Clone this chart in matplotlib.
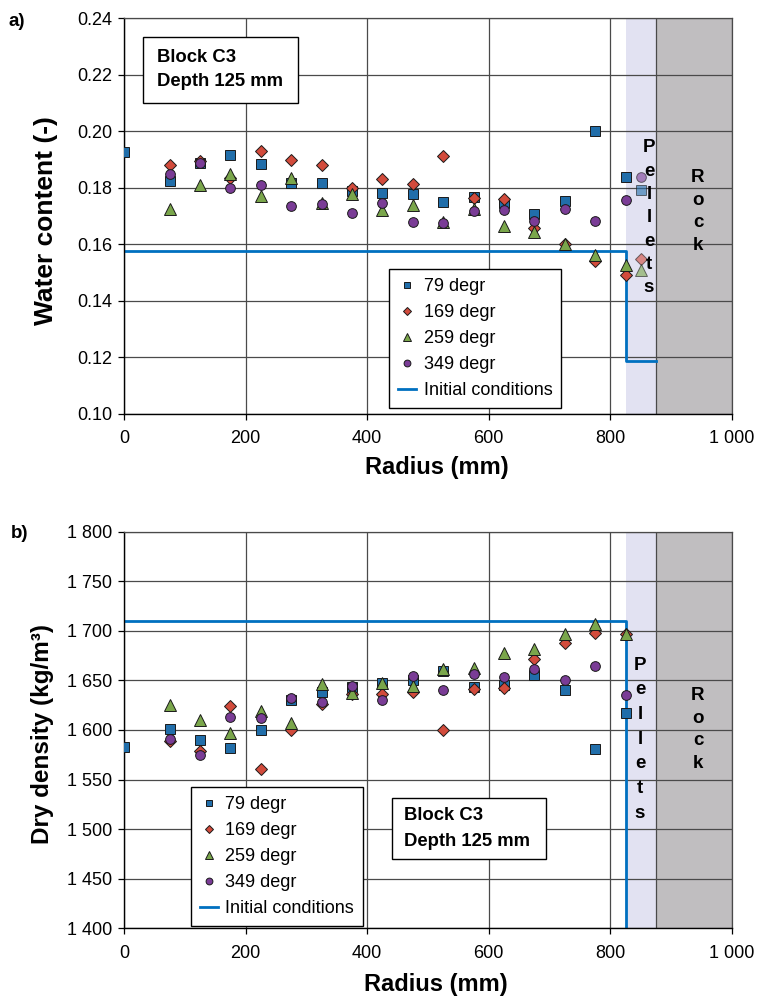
import numpy as np
import matplotlib
matplotlib.use("Agg")
import matplotlib.pyplot as plt
from matplotlib.ticker import FuncFormatter

plt.rcParams['font.family'] = ['Liberation Sans', 'DejaVu Sans']

# ---------------- data ----------------
series_names = ["79 degr", "169 degr", "259 degr", "349 degr"]
init_name = "Initial conditions"

radius_w = [0, 75, 125, 175, 225, 275, 325, 375, 425, 475, 525, 575, 625, 675, 725, 775, 825, 850]
w_79 = [0.1925, 0.1822, 0.1888, 0.1915, 0.1883, 0.1818, 0.1817, 0.1789, 0.1780, 0.1776, 0.1749, 0.1768,
        0.1745, 0.1707, 0.1753, 0.2000, 0.1837, 0.1791]
w_169 = [np.nan, 0.1881, 0.1895, 0.1835, 0.1930, 0.1897, 0.1880, 0.1800, 0.1830, 0.1812, 0.1913, 0.1762,
         0.1760, 0.1656, 0.1600, 0.1539, 0.1492, 0.1547]
w_259 = [np.nan, 0.1724, 0.1811, 0.1847, 0.1769, 0.1834, 0.1745, 0.1779, 0.1722, 0.1738, 0.1680, 0.1725,
         0.1665, 0.1644, 0.1602, 0.1563, 0.1527, 0.1507]
w_349 = [np.nan, 0.1850, 0.1888, 0.1800, 0.1811, 0.1736, 0.1741, 0.1710, 0.1747, 0.1680, 0.1675, 0.1717,
         0.1722, 0.1683, 0.1724, 0.1683, 0.1757, 0.1838]

radius_d = [0, 75, 125, 175, 225, 275, 325, 375, 425, 475, 525, 575, 625, 675, 725, 775, 825]
d_79 = [1583, 1601, 1590, 1582, 1600, 1630, 1638, 1643, 1647, 1650, 1660, 1643, 1645, 1655, 1640, 1581, 1617]
d_169 = [np.nan, 1589, 1579, 1624, 1561, 1600, 1626, 1636, 1636, 1638, 1600, 1641, 1642, 1672, 1688, 1698, 1697]
d_259 = [np.nan, 1625, 1610, 1597, 1619, 1607, 1646, 1637, 1647, 1644, 1662, 1663, 1678, 1682, 1697, 1707, 1697]
d_349 = [np.nan, 1591, 1575, 1613, 1612, 1632, 1628, 1644, 1630, 1654, 1640, 1656, 1653, 1662, 1650, 1665, 1635]

init_r = [0, 825, 875]
init_w = [0.1575, 0.1187, 0.1187]
init_d = [1710, 1100, 1100]

pellets_range = [825, 875]
rock_range = [875, 1000]

x_ticks = [0, 200, 400, 600, 800, 1000]
w_ticks = [0.10, 0.12, 0.14, 0.16, 0.18, 0.20, 0.22, 0.24]
d_ticks = [1400, 1450, 1500, 1550, 1600, 1650, 1700, 1750, 1800]

# ---------------- style ----------------
colors = ["#216EAA", "#D24B3C", "#7AA64B", "#7A3C96"]
markers = ["s", "D", "^", "o"]
msizes = [7.0, 6.0, 8.0, 7.0]
line_color = "#0070C0"
pellet_color = "#E2E2F2"
rock_color = "#C0BEC0"
grid_color = "#4a4a4a"

W, H = 757, 1000
fig = plt.figure(figsize=(W / 100, H / 100), dpi=100)

def fx(px):
    return px / W

def fy(py):
    return 1 - py / H

ax1 = fig.add_axes([fx(124), fy(413.5), 608 / W, (413.5 - 18.3) / H])
ax2 = fig.add_axes([fx(124), fy(928.3), 608 / W, (928.3 - 531.7) / H])

def thousands(v, pos):
    return f"{int(round(v)):,}".replace(",", " ")

def setup(ax, yticks, yfmt):
    ax.set_xlim(0, 1000)
    ax.set_ylim(yticks[0], yticks[-1])
    ax.set_xticks(x_ticks)
    ax.set_yticks(yticks)
    ax.xaxis.set_major_formatter(FuncFormatter(thousands))
    ax.yaxis.set_major_formatter(yfmt)
    ax.set_axisbelow(True)
    ax.grid(True, color=grid_color, lw=0.9)
    ax.tick_params(direction='out', length=4, width=0.9, labelsize=13, pad=4.5, colors='black')
    ax.tick_params(axis='x', pad=8)
    for s in ['left', 'bottom']:
        ax.spines[s].set_color('black')
        ax.spines[s].set_linewidth(1.0)
    for s in ['top', 'right']:
        ax.spines[s].set_color(grid_color)
        ax.spines[s].set_linewidth(0.9)
    ax.axvspan(pellets_range[0], pellets_range[1], color=pellet_color, zorder=0.3, lw=0)
    ax.axvspan(rock_range[0], rock_range[1], color=rock_color, zorder=0.3, lw=0)
    ax.axvline(rock_range[0], color=grid_color, lw=0.9, zorder=0.4)

def plot_series(ax, r, vals_list):
    handles = []
    r = np.asarray(r, float)
    for vals, c, m, ms, name in zip(vals_list, colors, markers, msizes, series_names):
        v = np.asarray(vals, float)
        inside = r < 840
        h, = ax.plot(r[inside], v[inside], linestyle='none', marker=m, ms=ms, mfc=c,
                     mec='#1a1a1a', mew=0.7, zorder=3, label=name)
        if (~inside).any():
            ax.plot(r[~inside], v[~inside], linestyle='none', marker=m, ms=ms, mfc=c,
                    mec='#1a1a1a', mew=0.7, zorder=3, alpha=0.6)
        handles.append(h)
    return handles

# ---------------- top chart ----------------
setup(ax1, w_ticks, FuncFormatter(lambda v, p: f"{v:.2f}"))
h1 = plot_series(ax1, radius_w, [w_79, w_169, w_259, w_349])
hl1, = ax1.plot(init_r, init_w, drawstyle='steps-post', color=line_color, lw=2.0, zorder=2.5, label=init_name)

# ---------------- bottom chart ----------------
setup(ax2, d_ticks, FuncFormatter(thousands))
h2 = plot_series(ax2, radius_d, [d_79, d_169, d_259, d_349])
hl2, = ax2.plot(init_r, init_d, drawstyle='steps-post', color=line_color, lw=2.0, zorder=2.5, label=init_name)

# legends
def make_legend(handles, left_px, top_px):
    leg = fig.legend(handles=handles, loc='upper left', bbox_to_anchor=(fx(left_px), fy(top_px)),
                     bbox_transform=fig.transFigure, borderaxespad=0, fontsize=13,
                     frameon=True, fancybox=False, framealpha=1, edgecolor='black',
                     handlelength=1.0, handletextpad=0.4, labelspacing=0.5, borderpad=0.5,
                     markerscale=0.7)
    leg.get_frame().set_linewidth(1.0)
    return leg

make_legend(h1 + [hl1], 389.3, 269)
make_legend(h2 + [hl2], 190.7, 787.3)

# text boxes
def block_box(x0, y0, x1, y1, tx, ty1, ty2):
    rect = plt.Rectangle((fx(x0), fy(y1)), (x1 - x0) / W, (y1 - y0) / H, transform=fig.transFigure,
                         facecolor='white', edgecolor='black', lw=1.0, zorder=5)
    fig.patches.append(rect)
    fig.text(fx(tx), fy(ty1), "Block C3", fontsize=13.3, fontweight='bold', va='center', ha='left', zorder=6)
    fig.text(fx(tx), fy(ty2), "Depth 125 mm", fontsize=13.3, fontweight='bold', va='center', ha='left', zorder=6)

block_box(142.7, 36.7, 297.7, 102.7, 156.7, 57, 82)
block_box(391.7, 797.7, 545.7, 859, 404, 815, 841)

# Pellets / Rock labels
def vertical_word(word, x_px, y_start_px, step_px):
    for i, ch in enumerate(word):
        fig.text(fx(x_px), fy(y_start_px + i * step_px), ch, fontsize=13.5, fontweight='bold',
                 ha='center', va='center', zorder=6)

vertical_word("Pellets", 649, 148, 23.3)
vertical_word("Rock", 698, 178, 22.4)
vertical_word("Pellets", 640, 665, 24.7)
vertical_word("Rock", 698, 695.5, 22.6)

# axis labels
fig.text(fx(46), fy(221), "Water content (-)", rotation=90, fontsize=19, fontweight='bold',
         ha='center', va='center')
fig.text(fx(42.5), fy(734), "Dry density (kg/m\u00b3)", rotation=90, fontsize=17.5, fontweight='bold',
         ha='center', va='center')
fig.text(fx(437), fy(467), "Radius (mm)", fontsize=17, fontweight='bold', ha='center', va='center')
fig.text(fx(436), fy(985), "Radius (mm)", fontsize=17, fontweight='bold', ha='center', va='center')

fig.text(fx(17), fy(22), "a)", fontsize=13.5, fontweight='bold', ha='center', va='center')
fig.text(fx(20), fy(533), "b)", fontsize=13.5, fontweight='bold', ha='center', va='center')

fig.savefig("out.png", dpi=100)
